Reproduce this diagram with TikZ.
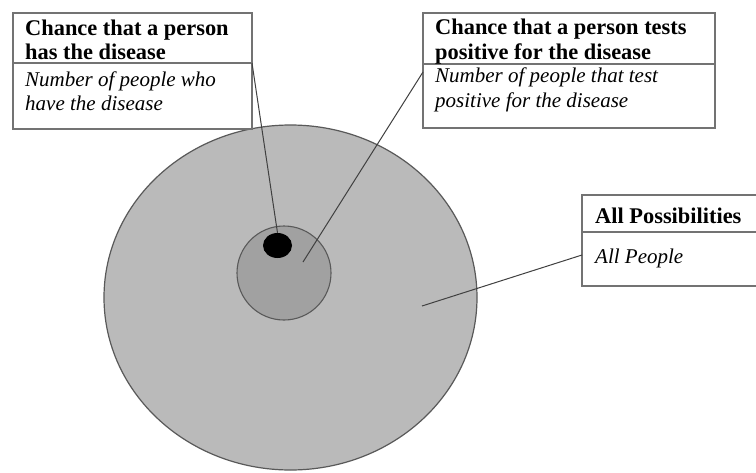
\documentclass[tikz,border=0pt]{standalone}
\usepackage{fontspec}
\setmainfont{Liberation Serif}
\usetikzlibrary{shapes.geometric}
\begin{document}
\begin{tikzpicture}[x=1pt,y=-1pt,
  frame/.style={draw=black!55, line width=1.3pt, fill=white, rectangle, inner sep=0pt},
  divider/.style={draw=black!55, line width=1.2pt},
  pointer/.style={draw=black!75, line width=1pt},
  headtext/.style={anchor=base west, inner sep=0pt, font=\fontsize{22.4}{24}\selectfont\bfseries},
  subtext/.style={anchor=base west, inner sep=0pt, font=\fontsize{21}{24}\selectfont\itshape},
]
\useasboundingbox (0,0) rectangle (756,472);
\clip (0,0) rectangle (756,472);
\fill[white] (0,0) rectangle (756,472);

% circles
\node (all) [ellipse, draw=black!65, line width=1.2pt, fill=black!27, minimum width=373pt, minimum height=345pt, inner sep=0pt] at (290.5,297.5) {};
\node (pos) [circle, draw=black!65, line width=1.1pt, fill=black!37, minimum width=94pt, minimum height=92pt, inner sep=0pt] at (284,273) {};
\node (dot) [ellipse, fill=black, minimum width=29pt, minimum height=25pt, inner sep=0pt] at (277.5,245.5) {};
\coordinate (p2) at (303,262);
\coordinate (p3) at (422,306);

% box 1
\node (b1) [frame, minimum width=239pt, minimum height=116pt] at (132.5,71) {};
\coordinate (b1l) at (13,63);
\coordinate (b1r) at (252,63);
\draw[divider] (b1l) -- (b1r);
\node (t1a) [headtext] at (25,35) {Chance that a person};
\node (t1b) [headtext] at (25,59) {has the disease};
\node (t1c) [subtext] at (25,86) {Number of people who};
\node (t1d) [subtext] at (25,110) {have the disease};

% box 2
\node (b2) [frame, minimum width=292pt, minimum height=115pt] at (569,70.5) {};
\coordinate (b2l) at (423,64);
\coordinate (b2r) at (715,64);
\coordinate (b2p) at (423,72);
\draw[divider] (b2l) -- (b2r);
\node (t2a) [headtext] at (435,34) {Chance that a person tests};
\node (t2b) [headtext] at (435,59) {positive for the disease};
\node (t2c) [subtext] at (435,82) {Number of people that test};
\node (t2d) [subtext] at (435,107) {positive for the disease};

% box 3
\node (b3) [frame, minimum width=190pt, minimum height=91pt] at (677,240.5) {};
\coordinate (b3l) at (582,232);
\coordinate (b3r) at (772,232);
\coordinate (b3p) at (582,255);
\draw[divider] (b3l) -- (b3r);
\node (t3a) [headtext] at (595,223) {All Possibilities};
\node (t3b) [subtext] at (595,263) {All People};

% pointers
\draw[pointer] (b1r) -- (dot.north);
\draw[pointer] (b2p) -- (p2);
\draw[pointer] (b3p) -- (p3);
\end{tikzpicture}
\end{document}
